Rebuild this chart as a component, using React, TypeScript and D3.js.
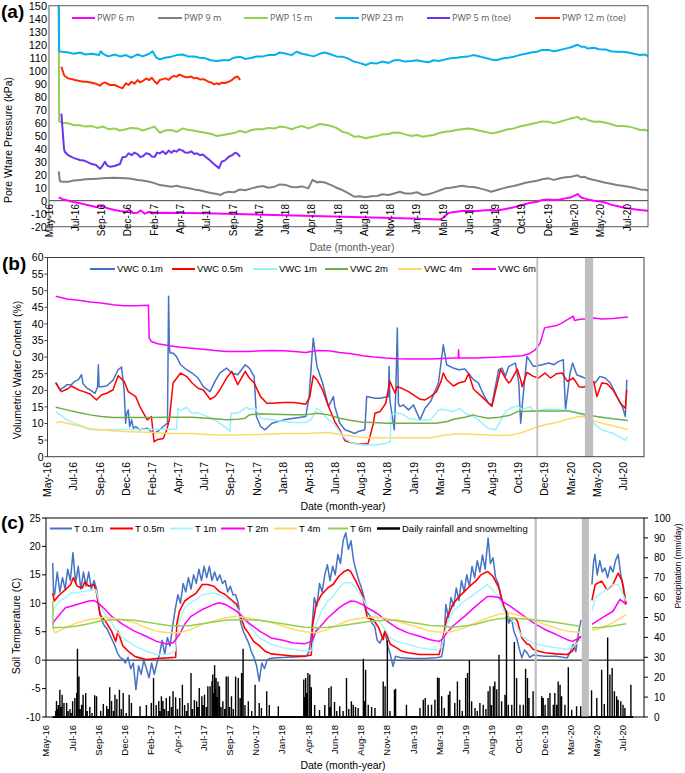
import React from "react";
import * as d3 from "d3";

type Pt = [string, number | null];
const parseDate = d3.timeParse("%y-%m-%d");
const fmtTick = d3.timeFormat("%b-%y");

// ---------- shared axis ----------
const AXIS_START = "16-05-10";
const AXIS_END = "20-09-22";
const TICK_STEP_DAYS = 70;
const TICK_COUNT = 23;

// ---------- panel (a): pore water pressure (kPa) ----------
const PWP_Y_TICKS = d3.range(-20, 151, 10);
const PWP_6: Pt[] = [["16-06-05",2.6],["16-06-15",1.2],["16-07-01",0],["16-07-15",-1],["16-08-01",-2],["16-08-15",-3],["16-09-01",-4.1],["16-09-15",-5],["16-09-22",-3.5],["16-10-01",-4.6],["16-10-15",-6],["16-11-01",-7.2],["16-11-15",-8],["16-12-01",-8.5],["16-12-10",-7],["16-12-20",-9.5],["17-01-01",-9.2],["17-01-10",-7.5],["17-01-20",-10],["17-02-01",-8.5],["17-02-10",-9.8],["17-03-01",-9.2],["17-07-01",-9.7],["18-01-01",-11],["18-07-01",-12.3],["19-01-01",-13.6],["19-03-20",-14.4],["19-04-10",-9.5],["19-04-20",-8.8],["19-05-01",-8.5],["19-05-15",-8],["19-06-01",-7.7],["19-06-15",-8.2],["19-07-01",-7.7],["19-07-15",-7.3],["19-08-01",-7.2],["19-08-15",-7.5],["19-09-01",-6.7],["19-09-15",-6],["19-10-01",-5.1],["19-10-15",-4],["19-11-01",-2.6],["19-11-15",-1.5],["19-12-01",-0.8],["19-12-15",0.5],["20-01-01",1],["20-01-15",0.5],["20-02-01",1],["20-02-15",1.8],["20-03-01",2.6],["20-03-18",5.1],["20-03-28",2.5],["20-04-05",1.8],["20-04-15",1],["20-05-01",0],["20-05-15",-0.5],["20-06-01",-1.5],["20-06-15",-3],["20-07-01",-4.1],["20-07-15",-5],["20-08-01",-5.9],["20-08-15",-6.5],["20-09-01",-7.2],["20-09-22",-7.7]];
const PWP_9: Pt[] = [["16-06-05",22.5],["16-06-08",15],["16-06-15",14.6],["16-07-01",14.6],["16-07-15",15.5],["16-08-01",16],["16-08-15",16.5],["16-09-01",16.7],["16-09-15",16.9],["16-10-01",17.2],["16-10-15",17.5],["16-11-01",17.7],["16-11-15",17.5],["16-12-01",17.2],["16-12-15",16.8],["17-01-01",16],["17-01-15",15.5],["17-02-01",14.6],["17-02-15",13.5],["17-03-01",12],["17-03-15",11.5],["17-04-01",10.8],["17-04-15",11.5],["17-05-01",10.3],["17-05-15",9.8],["17-06-01",8.7],["17-06-15",8],["17-07-01",6.9],["17-07-15",6],["17-08-01",5.1],["17-08-10",4.4],["17-08-20",6],["17-09-01",6.9],["17-09-15",6.5],["17-10-01",8.7],["17-10-15",8],["17-11-01",9.5],["17-11-15",10.5],["17-12-01",11.3],["17-12-15",10],["18-01-01",10.8],["18-01-15",12.5],["18-02-01",12],["18-02-15",10.5],["18-03-01",10.3],["18-03-15",11],["18-04-01",9.5],["18-04-12",16],["18-04-25",14],["18-05-01",14.6],["18-05-15",14],["18-06-01",12],["18-06-15",10],["18-07-01",8.2],["18-07-15",6],["18-08-01",3.1],["18-08-15",3.5],["18-09-01",2.6],["18-09-15",3.5],["18-10-01",3.6],["18-10-15",5],["18-11-01",4.4],["18-11-15",5.5],["18-12-01",6.9],["18-12-15",5.5],["19-01-01",5.6],["19-01-15",6.5],["19-02-01",4.4],["19-02-15",5],["19-03-01",6.2],["19-03-20",8.2],["19-04-01",9.5],["19-04-15",10],["19-05-01",10.8],["19-05-15",11.5],["19-06-01",10.8],["19-06-15",10.5],["19-07-01",9.5],["19-07-15",8.5],["19-08-01",6.9],["19-08-15",8],["19-09-01",9.5],["19-09-15",10.5],["19-10-01",11.3],["19-10-15",12.5],["19-11-01",13.8],["19-11-15",14.5],["19-12-01",15.4],["19-12-15",16.5],["20-01-01",17.2],["20-01-15",16],["20-02-01",17.2],["20-02-15",18],["20-03-01",18.5],["20-03-18",19.5],["20-03-28",18],["20-04-05",18.5],["20-04-15",17],["20-05-01",16],["20-05-15",15],["20-06-01",13.8],["20-06-15",13],["20-07-01",12],["20-07-15",11.5],["20-08-01",10.8],["20-08-15",10],["20-09-01",8.7],["20-09-15",8.5],["20-09-22",7.7]];
const PWP_15: Pt[] = [["16-06-05",150],["16-06-06",61],["16-06-15",60],["16-07-01",59.5],["16-07-15",58],["16-08-01",58],["16-08-15",57],["16-09-01",57.4],["16-09-15",56],["16-10-01",57],["16-10-15",55],["16-11-01",55.6],["16-11-15",54],["16-12-01",54.9],["16-12-15",56],["17-01-01",55.6],["17-01-15",54],["17-02-01",55.6],["17-02-15",57],["17-03-01",52.3],["17-03-15",54],["17-04-01",54.4],["17-04-15",53],["17-05-01",55.6],["17-05-15",54.5],["17-06-01",53.8],["17-06-15",53],["17-07-01",52.3],["17-07-15",51.5],["17-08-01",49.7],["17-08-15",50.5],["17-09-01",51.3],["17-09-15",52],["17-10-01",53.8],["17-10-15",52.5],["17-11-01",54.4],["17-11-15",55],["17-12-01",54.9],["17-12-15",56],["18-01-01",55.6],["18-01-15",57],["18-02-01",56.4],["18-02-15",55],["18-03-01",56.4],["18-03-15",57.5],["18-04-01",55.6],["18-04-15",57],["18-05-01",59],["18-05-15",58.5],["18-06-01",57.4],["18-06-15",56],["18-07-01",53],["18-07-15",52],["18-08-01",49.2],["18-08-15",49.5],["18-09-01",48],["18-09-15",49],["18-10-01",49.7],["18-10-15",51],["18-11-01",51.3],["18-11-15",52.5],["18-12-01",52.3],["18-12-15",51],["19-01-01",49.7],["19-01-15",50.5],["19-02-01",49.2],["19-02-15",50],["19-03-01",50.5],["19-03-15",52],["19-04-01",53],["19-04-15",53.5],["19-05-01",54.4],["19-05-15",55],["19-06-01",55.6],["19-06-15",55],["19-07-01",53.8],["19-07-15",53],["19-08-01",51.8],["19-08-15",52.5],["19-09-01",53.8],["19-09-15",55],["19-10-01",55.6],["19-10-15",57],["19-11-01",58],["19-11-15",59],["19-12-01",60],["19-12-15",61],["20-01-01",60.8],["20-01-15",59.5],["20-02-01",60.8],["20-02-15",62],["20-03-01",63.3],["20-03-18",64.5],["20-03-28",62.5],["20-04-05",63.3],["20-04-15",62],["20-05-01",60.8],["20-05-15",61],["20-06-01",60],["20-06-15",59],["20-07-01",57.4],["20-07-15",57.5],["20-08-01",57],["20-08-15",56],["20-09-01",54.4],["20-09-15",54.5],["20-09-22",53.6]];
const PWP_23: Pt[] = [["16-06-05",150],["16-06-06",115],["16-06-15",114.6],["16-07-01",114],["16-07-15",113],["16-08-01",114],["16-08-15",112.5],["16-09-01",113],["16-09-20",112],["16-09-25",115],["16-10-01",113],["16-10-15",111],["16-11-01",112.5],["16-11-15",111],["16-12-01",112],["16-12-15",110],["17-01-01",112.5],["17-01-15",111],["17-02-01",113],["17-02-10",115],["17-02-20",110],["17-03-01",108.7],["17-03-15",110],["17-04-01",110.8],["17-04-15",112],["17-05-01",112.5],["17-05-15",111],["17-06-01",111],["17-06-15",110],["17-07-01",109.5],["17-07-15",108],["17-08-01",107.4],["17-08-15",108],["17-09-01",108],["17-09-15",110],["17-10-01",110.8],["17-10-15",109],["17-11-01",110],["17-11-15",111],["17-12-01",111],["17-12-15",112],["18-01-01",112],["18-01-15",114],["18-02-01",113],["18-02-15",112],["18-03-01",114.6],["18-03-15",113],["18-04-01",112],["18-04-15",111],["18-05-01",113],["18-05-15",114],["18-06-01",112.5],["18-06-15",111],["18-07-01",110.8],["18-07-15",109.5],["18-08-01",107],["18-08-15",106],["18-09-01",104.4],["18-09-15",106],["18-10-01",105.6],["18-10-15",107],["18-11-01",106],["18-11-15",108],["18-12-01",108],["18-12-15",107],["19-01-01",107.4],["19-01-15",108],["19-02-01",107],["19-02-15",106.5],["19-03-01",108],["19-03-15",107.5],["19-04-01",108.7],["19-04-15",109.5],["19-05-01",110],["19-05-15",110.5],["19-06-01",111],["19-06-15",112],["19-07-01",111],["19-07-15",110],["19-08-01",108.7],["19-08-15",108],["19-09-01",109.5],["19-09-15",110],["19-10-01",110.8],["19-10-15",112],["19-11-01",113],["19-11-15",114],["19-12-01",114.6],["19-12-15",116],["20-01-01",116],["20-01-15",115],["20-02-01",116],["20-02-15",117],["20-03-01",118],["20-03-18",120],["20-03-28",118.5],["20-04-05",118.5],["20-04-15",117],["20-05-01",117.7],["20-05-15",116.5],["20-06-01",116.4],["20-06-15",115],["20-07-01",114.6],["20-07-15",114.5],["20-08-01",114],["20-08-15",113],["20-09-01",112],["20-09-15",112.5],["20-09-22",111]];
const PWP_5_TOE: Pt[] = [["16-06-12",67],["16-06-19",40],["16-06-21",37.7],["16-06-30",35],["16-07-10",33.5],["16-07-18",32.6],["16-07-31",31.3],["16-08-10",31],["16-08-18",30],["16-09-01",28.2],["16-09-12",27.5],["16-09-23",24.5],["16-09-30",27],["16-10-06",30],["16-10-12",27],["16-10-19",26.2],["16-11-01",26.7],["16-11-15",28.2],["16-11-22",33.5],["16-12-01",33.8],["16-12-08",36.5],["16-12-16",35],["16-12-24",37],["17-01-01",35.9],["17-01-08",33.5],["17-01-16",34.4],["17-01-24",36.5],["17-02-01",35.9],["17-02-08",34],["17-02-16",33.8],["17-02-22",37],["17-03-01",36.4],["17-03-09",38],["17-03-17",35.9],["17-03-25",38.5],["17-04-01",36.9],["17-04-08",38.5],["17-04-15",37.7],["17-04-22",39.5],["17-05-01",38.5],["17-05-08",37],["17-05-16",36.9],["17-05-24",38],["17-06-01",35.9],["17-06-08",36.5],["17-06-16",35],["17-06-24",35.5],["17-07-01",33.8],["17-07-09",32],["17-07-17",30],["17-07-24",28],["17-08-01",26.2],["17-08-06",25],["17-08-13",30],["17-08-22",31],["17-09-01",33.8],["17-09-10",35],["17-09-18",36.9],["17-09-25",36],["17-10-01",33.8]];
const PWP_12_TOE: Pt[] = [["16-06-12",103],["16-06-19",96.7],["16-06-21",95.9],["16-06-30",94.1],["16-07-10",93.5],["16-07-18",92.8],["16-07-31",92],["16-08-10",91.5],["16-08-18",91.5],["16-09-01",90.8],["16-09-12",90],["16-09-23",88.5],["16-09-30",90.3],["16-10-06",91],["16-10-19",89],["16-11-01",89],["16-11-15",87.2],["16-11-22",86.5],["16-12-01",90.3],["16-12-08",89],["16-12-16",91.5],["16-12-24",90],["17-01-01",92.8],["17-01-08",91],["17-01-16",92.3],["17-01-24",94],["17-02-01",92.8],["17-02-08",94.5],["17-02-16",91.5],["17-02-22",90],["17-03-01",92.8],["17-03-09",93.5],["17-03-17",94.1],["17-03-25",93],["17-04-01",94.9],["17-04-08",96],["17-04-15",95.4],["17-04-22",97],["17-05-01",95.9],["17-05-08",95],["17-05-16",94.9],["17-05-24",95.5],["17-06-01",94.1],["17-06-08",94.5],["17-06-16",93.3],["17-06-24",93.5],["17-07-01",92.8],["17-07-09",91.5],["17-07-17",90.8],["17-07-24",89.5],["17-08-01",90.3],["17-08-06",89.5],["17-08-13",90.8],["17-08-22",90.5],["17-09-01",91.5],["17-09-10",93],["17-09-18",94.9],["17-09-25",95.5],["17-10-01",92.8]];

// ---------- panel (b): volumetric water content (%) ----------
const VWC_Y_TICKS = d3.range(0, 61, 5);
const VWC_01: Pt[] = [["16-06-01",22.4],["16-06-12",20.1],["16-06-25",21.1],["16-07-01",21.7],["16-07-13",21.7],["16-07-22",22.7],["16-08-01",23.2],["16-08-09",24.7],["16-08-13",22],["16-08-24",20.6],["16-09-01",20.1],["16-09-14",19.1],["16-09-21",21],["16-09-23",27.7],["16-09-25",21.1],["16-10-01",21.1],["16-10-15",21.3],["16-11-01",23],["16-11-15",26.2],["16-11-24",27],["16-12-01",20.1],["16-12-05",10.1],["16-12-08",13],["16-12-12",14.1],["16-12-16",9],["16-12-21",11.1],["16-12-26",8.5],["17-01-01",9.1],["17-01-12",8.1],["17-02-01",8.6],["17-02-17",7],["17-03-01",7.6],["17-03-16",9.1],["17-03-27",10.1],["17-03-30",48.3],["17-04-01",33],["17-04-03",31.2],["17-04-11",31.2],["17-04-20",30.2],["17-05-01",27.7],["17-05-17",26.2],["17-06-01",25.2],["17-06-17",23.7],["17-07-01",21.1],["17-07-19",19.6],["17-08-01",22.7],["17-08-14",25.2],["17-09-01",26.7],["17-09-15",25.2],["17-10-01",24.7],["17-10-21",27.7],["17-11-01",26.7],["17-11-14",24.2],["17-11-20",12.1],["17-12-01",9.1],["17-12-13",8.1],["18-01-01",10.1],["18-02-01",11.1],["18-03-01",11.6],["18-04-01",12.1],["18-04-10",18.1],["18-04-21",35.7],["18-05-01",27.2],["18-05-16",22.2],["18-06-01",15.1],["18-06-14",18.1],["18-06-18",15],["18-07-01",10.1],["18-07-15",8.1],["18-08-11",7],["18-08-20",7.6],["18-09-06",8.1],["18-09-11",18.1],["18-10-03",17.6],["18-10-17",17.6],["18-11-08",18.1],["18-11-10",27.2],["18-11-12",17],["18-11-24",8.1],["18-11-28",20],["18-12-02",38.8],["18-12-05",16],["18-12-09",15.1],["18-12-18",15.6],["19-01-01",14.1],["19-01-14",15.6],["19-02-01",11.1],["19-02-14",14.6],["19-03-01",16.6],["19-03-22",22.2],["19-04-04",33.7],["19-04-13",27.7],["19-05-01",26.7],["19-05-15",26.2],["19-06-01",26.4],["19-06-24",23.2],["19-07-07",22.2],["19-07-21",18.6],["19-08-03",16.1],["19-08-12",15.6],["19-08-30",26.2],["19-09-08",26.7],["19-09-17",24.2],["19-09-26",27.2],["19-10-14",28.2],["19-10-23",22.2],["19-10-28",10.1],["19-11-05",20.1],["19-11-14",30.2],["19-12-01",27.2],["19-12-24",27.7],["20-01-11",28.2],["20-01-25",27.7],["20-02-07",28.7],["20-02-19",29.2],["20-02-25",14.1],["20-03-08",25.2],["20-03-15",28.2],["20-03-26",24.7],["20-04-16",23.7],["20-05-14",22.2],["20-05-27",24.2],["20-06-10",23.7],["20-06-24",22.2],["20-07-12",18.1],["20-07-26",15.1],["20-08-03",12.1],["20-08-07",23.2]];
const VWC_05: Pt[] = [["16-06-01",22.2],["16-06-16",19.6],["16-07-01",20.3],["16-07-13",21.3],["16-08-01",20.1],["16-08-15",19.6],["16-09-01",18.9],["16-09-18",17.1],["16-10-01",18.6],["16-10-15",19.1],["16-11-01",20.1],["16-11-15",24.4],["16-12-01",22.7],["16-12-12",19.6],["17-01-01",18.1],["17-01-12",15.1],["17-02-01",11.1],["17-02-12",12.1],["17-02-19",4.5],["17-03-01",5.2],["17-03-16",5.5],["17-03-25",8.1],["17-04-01",11.1],["17-04-11",22.2],["17-05-01",25.2],["17-05-17",24.2],["17-06-01",22.2],["17-06-17",20.6],["17-07-01",20.1],["17-07-19",17.3],["17-08-01",18.1],["17-08-14",20.1],["17-09-01",23.7],["17-09-15",25.7],["17-10-01",21.7],["17-10-21",25.7],["17-11-01",23.7],["17-11-14",22.2],["17-12-01",18.1],["17-12-18",16.1],["18-01-01",16.1],["18-02-01",16.3],["18-03-01",16.3],["18-04-01",15.8],["18-04-12",18.1],["18-04-21",24.4],["18-05-01",23.2],["18-05-16",20.1],["18-06-01",15.1],["18-06-18",10.5],["18-07-01",8.1],["18-07-15",4.8],["18-08-01",4.2],["18-08-20",3.8],["18-09-06",3.8],["18-09-15",4],["18-09-29",10.1],["18-10-03",13.1],["18-10-17",13.6],["18-11-01",16.1],["18-11-12",22.7],["18-11-26",19.1],["18-12-01",21.1],["18-12-14",20.6],["19-01-01",19.6],["19-01-18",18.3],["19-02-01",17.3],["19-02-14",17.1],["19-03-01",18.1],["19-03-17",19.6],["19-03-29",22.7],["19-04-04",25.2],["19-04-13",23.2],["19-05-01",21.3],["19-05-15",22.2],["19-06-01",22.7],["19-06-11",25],["19-06-24",20.3],["19-07-16",18.1],["19-08-03",16.1],["19-08-12",15.1],["19-08-30",23.7],["19-09-04",26.2],["19-09-17",23.7],["19-09-26",22.2],["19-10-01",22.7],["19-10-19",26.4],["19-10-28",23.2],["19-11-01",21.1],["19-11-14",25.4],["19-12-01",24.2],["19-12-15",23.7],["20-01-01",25.2],["20-01-16",23.7],["20-02-01",25],["20-02-16",25.2],["20-03-01",22.7],["20-03-17",23.7],["20-04-01",21.1],["20-04-13",20.9],["20-05-10",22.7],["20-05-19",18.1],["20-06-01",22.2],["20-06-15",22],["20-07-01",20.1],["20-07-21",16.1],["20-08-03",14.6],["20-08-07",20.1]];
const VWC_1: Pt[] = [["16-06-01",13.6],["16-07-01",11.1],["16-08-01",9.6],["16-09-01",8.1],["17-03-27",8.3],["17-04-20",8.3],["17-04-24",14.6],["17-05-01",13.9],["17-05-17",14.9],["17-06-01",13.1],["17-06-12",13.3],["17-07-01",12.6],["17-08-01",11.1],["17-09-01",8.6],["17-09-10",7.6],["17-09-13",13.1],["17-10-01",13.1],["17-10-25",14.9],["17-11-01",14.3],["17-11-17",14.6],["17-12-01",11.6],["18-01-01",11.1],["18-02-01",10.6],["18-03-01",10.3],["18-04-01",10.3],["18-04-16",11.3],["18-05-01",14.6],["18-05-16",13.1],["18-06-01",11.1],["18-06-15",10],["18-07-01",7.5],["18-07-15",5.5],["18-08-01",4.2],["18-09-01",3.5],["18-10-01",3.5],["18-11-01",4],["18-11-13",4.5],["18-11-15",12.6],["18-12-01",13.1],["18-12-14",12.9],["19-01-01",11.6],["19-02-01",10.9],["19-03-01",11.1],["19-03-22",14.1],["19-04-01",14.3],["19-05-01",13.6],["19-05-19",14.6],["19-06-01",13.1],["19-07-01",11.6],["19-08-01",8.6],["19-08-21",8.1],["19-09-01",10.1],["19-09-17",13.6],["19-10-01",14.6],["19-10-19",15.3],["19-11-01",14.1],["19-11-23",15.1],["19-12-01",13.6],["20-01-01",14.3],["20-02-01",14.3],["20-03-01",14.1],["20-04-01",13.1],["20-04-13",12.6],["20-05-10",10.1],["20-06-01",8.1],["20-07-01",7],["20-08-03",5],["20-08-08",6]];
const VWC_2: Pt[] = [["16-06-01",14.9],["16-07-01",14.1],["16-08-01",13.3],["16-09-01",12.6],["16-10-01",12.1],["16-11-01",11.8],["17-02-01",11.8],["17-04-01",11.9],["17-06-01",11.9],["17-08-01",11.4],["17-09-01",11.1],["17-10-01",11.3],["17-10-21",11.6],["17-11-01",12.6],["17-12-01",12.9],["18-01-01",12.8],["18-03-01",12.6],["18-04-01",12.6],["18-05-01",13.1],["18-06-01",12.6],["18-07-01",11.6],["18-08-01",10.9],["18-09-01",10.4],["18-10-01",10.3],["18-11-01",10.1],["19-03-15",10.1],["19-04-15",10.6],["19-05-01",11.3],["19-06-01",11.9],["19-06-24",12.6],["19-07-01",12.3],["19-08-01",11.6],["19-09-01",11.9],["19-09-30",12.5],["19-10-19",13.6],["19-11-01",13.6],["19-12-01",13.8],["20-03-01",13.8],["20-04-01",13.1],["20-05-01",12.4],["20-06-01",11.9],["20-07-01",11.4],["20-08-10",10.9]];
const VWC_4: Pt[] = [["16-06-01",10.3],["16-06-15",10.5],["16-07-01",10.1],["16-08-01",9.3],["16-09-01",8.4],["16-10-01",8.1],["16-11-01",7.8],["16-12-01",7.6],["17-02-01",7.4],["17-04-01",7],["17-06-01",7],["17-08-01",6.5],["17-10-01",6.5],["17-12-01",6.7],["18-02-01",7],["18-04-01",7],["18-06-01",7.3],["18-07-01",6.7],["18-08-01",6.2],["18-09-01",5.8],["18-10-01",5.7],["19-03-01",5.7],["19-04-01",6.4],["19-05-01",6.8],["19-06-01",6.8],["19-07-01",6.7],["19-08-01",6.5],["19-09-01",6.4],["19-10-01",6.5],["19-11-01",7.3],["19-12-01",8.6],["20-01-01",9.6],["20-02-01",10.3],["20-03-01",11.3],["20-04-01",12.1],["20-04-13",12.1],["20-05-01",11.1],["20-06-01",10.1],["20-07-01",9.3],["20-08-10",8.1]];
const VWC_6: Pt[] = [["16-06-01",48.3],["16-07-01",47.5],["16-08-01",47.1],["16-09-01",46.6],["16-10-01",46.3],["16-11-01",45.8],["16-12-01",45.5],["17-01-01",45.5],["17-02-04",45.6],["17-02-06",35.7],["17-02-12",34.7],["17-03-01",34],["17-04-01",33.4],["17-05-01",33],["17-06-01",32.7],["17-07-01",32.4],["17-08-01",32],["17-09-01",31.7],["17-10-01",31.7],["17-11-01",31.7],["17-12-01",31.9],["18-01-01",32],["18-02-01",31.9],["18-03-01",31.7],["18-04-01",31.4],["18-05-01",32],["18-06-01",31.9],["18-07-01",31.4],["18-08-01",31],["18-09-01",30.4],["18-10-01",30],["18-11-01",29.7],["18-12-01",29.5],["19-01-01",29.4],["19-02-01",29.4],["19-03-01",29.4],["19-04-01",29.6],["19-05-01",29.7],["19-05-14",29.7],["19-05-15",32.2],["19-05-16",29.7],["19-06-01",29.7],["19-07-01",29.7],["19-08-01",29.9],["19-09-01",30],["19-10-01",30.2],["19-11-01",30.4],["19-11-19",31],["19-12-06",32.2],["19-12-19",34.2],["19-12-31",38.8],["20-01-11",39.1],["20-02-01",39.5],["20-02-16",40.3],["20-03-01",41.3],["20-03-17",42.3],["20-03-20",41],["20-04-01",41.3],["20-04-13",41.5],["20-05-10",41.8],["20-06-01",41.5],["20-07-01",41.6],["20-08-10",42.1]];
const VWC_GAPS: [string, string][] = [["19-12-09","19-12-14"],["20-04-17","20-05-09"]];

// ---------- panel (c): soil temperature (C) and precipitation (mm/day) ----------
const T_Y_TICKS = d3.range(-10, 26, 5);
const P_Y_TICKS = d3.range(0, 101, 10);
const T_01: Pt[] = [["16-05-28",17.1],["16-05-30",12],["16-06-02",11.5],["16-06-09",15.5],["16-06-16",12],["16-06-23",14.5],["16-06-30",12.5],["16-07-07",16],["16-07-14",14],["16-07-21",18.9],["16-07-28",13.5],["16-08-04",16.5],["16-08-11",12.5],["16-08-18",15.5],["16-08-25",13],["16-09-01",15.5],["16-09-08",12.5],["16-09-15",14],["16-09-22",12.5],["16-09-29",9],["16-10-06",7],["16-10-13",6],["16-10-20",5.5],["16-10-27",4.5],["16-11-03",3.5],["16-11-10",2.5],["16-11-17",1.2],["16-11-24",0.5],["16-12-01",0.2],["16-12-08",-0.5],["16-12-15",0.5],["16-12-22",-1.5],["16-12-29",-0.5],["17-01-05",-5.2],["17-01-12",-1],["17-01-19",-2.5],["17-01-26",0],["17-02-02",-1.5],["17-02-09",-3.1],["17-02-16",-0.5],["17-02-23",-2.5],["17-03-02",-0.5],["17-03-09",1],["17-03-16",3.5],["17-03-23",1],["17-03-30",4],["17-04-06",2.5],["17-04-13",6],["17-04-20",9],["17-04-27",11.5],["17-05-04",10],["17-05-11",13.5],["17-05-18",12],["17-05-25",14.5],["17-06-01",12.5],["17-06-08",15],["17-06-15",13.5],["17-06-22",16],["17-06-29",14],["17-07-06",16.5],["17-07-13",14.5],["17-07-20",16.5],["17-07-27",14],["17-08-03",15.5],["17-08-10",14],["17-08-17",15],["17-08-24",13.5],["17-08-31",14],["17-09-07",12],["17-09-14",13],["17-09-21",11.5],["17-09-28",11.5],["17-10-05",10],["17-10-12",6.5],["17-10-19",5],["17-10-26",4],["17-11-02",3],["17-11-09",1.5],["17-11-16",0.5],["17-11-23",-1],["17-11-30",-3.7],["17-12-07",-0.5],["17-12-14",-1.5],["17-12-21",0],["17-12-28",0.3],["18-01-15",0.4],["18-02-15",0.5],["18-03-15",0.6],["18-04-05",0.7],["18-04-12",1.5],["18-04-19",5],["18-04-26",11],["18-05-03",9.5],["18-05-10",13.5],["18-05-17",12],["18-05-24",15],["18-05-31",16.8],["18-06-07",14],["18-06-14",16.5],["18-06-21",15],["18-06-28",18.6],["18-07-05",17],["18-07-12",21],["18-07-19",22.4],["18-07-26",19.5],["18-08-02",21],["18-08-09",17.5],["18-08-16",15.6],["18-08-23",14],["18-08-30",12.7],["18-09-06",11],["18-09-13",8.5],["18-09-20",8],["18-09-27",6.5],["18-10-04",6],["18-10-11",3.5],["18-10-18",3],["18-10-25",4],["18-11-01",5.1],["18-11-08",2.5],["18-11-15",1],["18-11-22",-1.1],["18-11-29",0.7],["18-12-15",0.4],["19-01-15",0.3],["19-02-15",0.3],["19-03-15",0.4],["19-04-01",0.6],["19-04-07",2.8],["19-04-12",9.8],["19-04-19",7.5],["19-04-26",11],["19-05-03",9.5],["19-05-10",12.7],["19-05-17",10.5],["19-05-24",14],["19-05-31",12],["19-06-07",15],["19-06-14",13],["19-06-21",16.5],["19-06-28",14.5],["19-07-05",17.5],["19-07-12",15.5],["19-07-19",18.5],["19-07-26",16],["19-08-03",21.5],["19-08-09",17],["19-08-16",18],["19-08-23",14.5],["19-08-30",13.5],["19-09-06",11],["19-09-13",9.5],["19-09-20",8.6],["19-09-27",6.5],["19-10-04",7.4],["19-10-11",5],["19-10-18",3.9],["19-10-25",2],["19-11-01",0.4],["19-11-08",1.8],["19-11-15",1.3],["19-11-22",0.5],["19-12-01",0.9],["20-01-01",0.7],["20-02-01",0.7],["20-03-01",0.4],["20-03-10",1.5],["20-03-17",2.8],["20-03-24",1.5],["20-04-01",5.1],["20-04-07",7.1],["20-04-20",null],["20-05-06",13.3],["20-05-10",17],["20-05-14",18.6],["20-05-20",15],["20-05-27",17.5],["20-06-03",15.5],["20-06-10",16.2],["20-06-17",14.5],["20-06-24",16.5],["20-07-01",15.5],["20-07-08",17.5],["20-07-15",18.6],["20-07-22",15],["20-07-29",13],["20-08-05",9.8]];
const T_05: Pt[] = [["16-05-28",11.8],["16-06-01",10.4],["16-06-15",11.5],["16-07-01",12.4],["16-07-15",13.3],["16-07-22",14.5],["16-08-01",13],["16-08-15",12.7],["16-08-22",13.8],["16-09-01",13],["16-09-15",13.3],["16-09-22",11.8],["16-10-01",8],["16-10-15",6.9],["16-11-01",5.1],["16-11-12",3.3],["16-11-18",5.1],["16-12-01",2.5],["16-12-15",1.6],["17-01-01",0.7],["17-01-15",0.4],["17-02-01",0.1],["17-03-01",0.3],["17-04-01",0.4],["17-04-21",0.5],["17-04-24",6.3],["17-05-01",8.6],["17-05-15",10.4],["17-06-01",11.2],["17-06-15",11.8],["17-07-01",13.3],["17-07-15",13.3],["17-08-01",13],["17-08-15",12.1],["17-09-01",11.5],["17-09-15",10.7],["17-10-01",9.8],["17-10-13",7.4],["17-10-22",5.7],["17-11-01",4.8],["17-11-15",3.3],["17-12-01",2.5],["17-12-15",1.6],["18-01-01",1.1],["18-02-01",0.9],["18-03-01",0.7],["18-04-01",0.7],["18-04-18",0.9],["18-04-22",6.3],["18-05-01",9.8],["18-05-15",11.5],["18-06-01",12.7],["18-06-15",13.3],["18-07-01",14.8],["18-07-15",15.6],["18-07-25",15.9],["18-08-01",15.6],["18-08-15",13.9],["18-09-01",11.5],["18-09-15",7.4],["18-10-01",7.1],["18-10-15",5.7],["18-10-27",3.6],["18-11-01",5.1],["18-11-15",2.8],["18-12-01",2.2],["18-12-15",1.6],["19-01-01",1.3],["19-02-01",1],["19-03-01",1],["19-03-25",1],["19-04-01",2.8],["19-04-15",7.4],["19-05-01",9.8],["19-05-15",11],["19-06-01",12.1],["19-06-15",13],["19-07-01",13.9],["19-07-15",15],["19-08-01",15.6],["19-08-15",14.8],["19-09-01",12.7],["19-09-15",9.2],["19-10-01",7.1],["19-10-13",7.4],["19-10-20",6.9],["19-11-01",3.9],["19-11-15",2.8],["19-11-20",2.8],["19-12-01",1.9],["19-12-15",1.6],["20-01-01",1.3],["20-02-01",1.1],["20-03-01",1],["20-03-15",1.6],["20-04-01",3.9],["20-04-07",4.2],["20-04-20",null],["20-05-06",10.5],["20-05-15",13.3],["20-06-01",13.9],["20-06-15",12.4],["20-07-01",13.3],["20-07-15",15.3],["20-07-25",14],["20-08-05",9.8]];
const T_1: Pt[] = [["16-05-28",8.6],["16-06-01",9.2],["16-06-15",10.4],["16-07-01",11],["16-07-15",11.8],["16-08-01",11.8],["16-08-15",12.1],["16-09-01",12.2],["16-09-20",12.4],["16-10-01",9.8],["16-10-15",8],["16-11-01",6.6],["16-11-15",5.1],["16-12-01",3.9],["16-12-15",3.3],["17-01-01",2.5],["17-02-01",1.6],["17-03-01",1],["17-04-01",1],["17-04-20",1.6],["17-05-01",6.9],["17-05-15",9.2],["17-06-01",10.1],["17-06-15",10.7],["17-07-01",11.5],["17-08-01",11.8],["17-08-15",11.5],["17-09-01",11],["17-09-15",10.4],["17-10-01",9.2],["17-10-15",8],["17-11-01",6.3],["17-11-15",5.1],["17-12-01",3.9],["18-01-01",2.8],["18-02-01",2.2],["18-03-01",1.9],["18-04-01",1.6],["18-04-20",1.7],["18-05-01",6.3],["18-05-15",8.6],["18-06-01",10.4],["18-06-15",11.2],["18-07-01",12.7],["18-07-15",13.6],["18-08-01",13.6],["18-08-15",12.7],["18-09-01",11],["18-09-15",9.2],["18-10-01",8.6],["18-10-15",6.9],["18-11-01",5.4],["18-11-15",3.9],["18-12-01",3.3],["19-01-01",2.8],["19-02-01",2.2],["19-03-01",1.9],["19-03-25",1.8],["19-04-01",2.5],["19-04-15",6.3],["19-05-01",8.6],["19-06-01",10.4],["19-07-01",11.8],["19-08-01",13.3],["19-08-15",12.4],["19-09-01",11],["19-09-15",8.6],["19-10-01",7.4],["19-10-15",6.3],["19-11-01",4.2],["19-12-01",3],["20-01-01",2.5],["20-02-01",2.2],["20-03-01",1.9],["20-03-15",2.2],["20-04-01",3.3],["20-04-07",3.6],["20-04-20",null],["20-05-06",8.6],["20-05-15",11],["20-06-01",11.8],["20-07-01",13.3],["20-07-15",13.3],["20-08-05",10.4]];
const T_2: Pt[] = [["16-05-28",6.3],["16-06-01",6.9],["16-06-15",8],["16-07-01",9.2],["16-08-01",9.8],["16-09-01",10.4],["16-09-15",10.5],["16-10-01",9.8],["16-10-15",8.9],["16-11-01",7.7],["16-12-01",6.3],["17-01-01",5.1],["17-02-01",4.2],["17-03-01",3.3],["17-04-01",2.8],["17-04-15",3.1],["17-05-01",4.5],["17-05-15",6.3],["17-06-01",7.7],["17-07-01",8.9],["17-08-01",9.8],["17-08-15",10.1],["17-09-01",9.8],["17-10-01",8.6],["17-11-01",6.6],["17-12-01",5.1],["18-01-01",3.9],["18-02-01",3.5],["18-03-01",3],["18-04-01",2.9],["18-04-20",3.3],["18-05-01",5.1],["18-06-01",7.4],["18-07-01",9.2],["18-07-15",9.8],["18-08-01",10.4],["18-08-15",10.3],["18-09-01",9.8],["18-09-15",9.2],["18-10-01",8.6],["18-10-15",8],["18-11-01",7.1],["18-12-01",5.7],["19-01-01",4.8],["19-02-01",4.2],["19-03-01",3.6],["19-03-25",3.3],["19-04-01",3.6],["19-04-15",4.8],["19-05-01",6],["19-06-01",7.7],["19-07-01",9.5],["19-08-01",11.2],["19-08-15",11.2],["19-09-01",11],["19-09-15",10.1],["19-10-01",9.5],["19-11-01",8],["19-12-01",6.6],["20-01-01",5.4],["20-02-01",4.5],["20-03-01",3.6],["20-03-15",3.3],["20-04-01",3.9],["20-04-07",4],["20-04-20",null],["20-05-06",6.3],["20-06-01",7.4],["20-07-01",8.6],["20-07-20",10.7],["20-08-05",9.8]];
const T_4: Pt[] = [["16-05-28",5.7],["16-06-03",4.8],["16-07-01",5.7],["16-08-01",6.6],["16-09-01",7.1],["16-10-01",7.4],["16-10-15",7.6],["16-11-01",7.4],["16-12-01",7.1],["17-01-01",6.6],["17-02-01",5.7],["17-03-01",5.1],["17-04-01",4.8],["17-05-01",4.8],["17-06-01",5.4],["17-07-01",6.3],["17-08-01",6.9],["17-09-01",7.4],["17-10-01",7.7],["17-11-01",7.4],["17-12-01",7],["18-01-01",6.6],["18-02-01",6],["18-03-01",5.4],["18-04-01",5],["18-05-01",4.8],["18-06-01",5.4],["18-07-01",6.3],["18-08-01",7.1],["18-09-01",7.4],["18-10-01",7.6],["18-11-01",7.4],["18-12-01",6.9],["19-01-01",6.3],["19-02-01",5.7],["19-03-01",5.1],["19-04-01",4.9],["19-05-01",5.1],["19-06-01",5.7],["19-07-01",6.6],["19-08-01",7.4],["19-09-01",8.1],["19-10-01",8.3],["19-11-01",7.7],["19-12-01",7],["20-01-01",6.3],["20-02-01",5.6],["20-03-01",5.1],["20-04-01",4.9],["20-04-07",4.9],["20-04-20",null],["20-05-06",5.2],["20-06-01",5.7],["20-07-01",6.6],["20-08-05",8]];
const T_6: Pt[] = [["16-05-28",10.4],["16-05-29",5.7],["16-07-01",5.8],["16-08-01",6],["16-09-01",6.4],["16-10-01",6.9],["16-11-01",7.1],["16-12-01",7.1],["17-01-01",7],["17-02-01",6.7],["17-03-01",6.4],["17-04-01",6.1],["17-05-01",6],["17-06-01",6.1],["17-07-01",6.4],["17-08-01",6.7],["17-09-01",7],["17-10-01",7.1],["17-11-01",7.1],["17-12-01",7],["18-01-01",6.7],["18-02-01",6.4],["18-03-01",6.1],["18-04-01",5.8],["18-05-01",5.7],["18-06-01",5.8],["18-07-01",6],["18-08-01",6.3],["18-09-01",6.6],["18-10-01",6.9],["18-11-01",7],["18-12-01",7],["19-01-01",6.7],["19-02-01",6.4],["19-03-01",6.1],["19-04-01",6],["19-05-01",5.8],["19-06-01",6],["19-07-01",6.3],["19-08-01",6.9],["19-09-01",7.3],["19-10-01",7.4],["19-11-01",7.3],["19-12-01",7.1],["20-01-01",6.9],["20-02-01",6.6],["20-03-01",6.3],["20-04-01",6],["20-04-07",6],["20-04-20",null],["20-05-06",5.7],["20-06-01",5.8],["20-07-01",6],["20-08-05",6.4]];
const RAIN: [string, number][] = [["16-06-05",3],["16-06-07",8],["16-06-10",4],["16-06-12",6],["16-06-16",13.7],["16-06-19",5],["16-06-22",11.2],["16-06-27",7],["16-07-04",7],["16-07-08",3],["16-07-13",4],["16-07-16",2],["16-07-20",7.9],["16-07-26",9.5],["16-07-31",12],["16-08-02",34.3],["16-08-06",20.4],["16-08-09",4],["16-08-13",6.2],["16-08-17",11.2],["16-08-24",12],["16-08-28",3],["16-09-04",5],["16-09-10",2],["16-09-17",10.9],["16-09-22",10.4],["16-10-03",3],["16-10-10",6.5],["16-10-19",5.5],["16-10-23",4],["16-10-27",14.9],["16-11-01",8],["16-11-06",3],["16-11-10",11.2],["16-11-15",9],["16-11-22",13.7],["16-11-27",4],["16-12-02",12],["16-12-10",2],["16-12-18",11.2],["16-12-24",7],["17-01-16",5.4],["17-02-02",6],["17-02-15",7],["17-02-21",19.6],["17-02-28",6],["17-03-07",8],["17-03-10",3],["17-03-14",10.4],["17-03-18",8],["17-03-22",4],["17-03-27",9.5],["17-04-01",3],["17-04-05",10.4],["17-04-10",5],["17-04-14",12.9],["17-04-21",9.9],["17-04-26",4],["17-05-02",9.5],["17-05-09",16.2],["17-05-15",6],["17-05-20",3],["17-05-24",7],["17-06-01",22.1],["17-06-05",4],["17-06-10",8.5],["17-06-16",7.9],["17-06-19",5],["17-06-23",14.6],["17-06-30",10.4],["17-07-03",6],["17-07-07",11.2],["17-07-12",5],["17-07-16",15.4],["17-07-22",15.4],["17-07-27",18],["17-07-29",21.3],["17-08-01",12],["17-08-03",26],["17-08-05",14],["17-08-07",19.6],["17-08-10",10],["17-08-12",17.9],["17-08-16",15.4],["17-08-20",5],["17-08-25",7.9],["17-08-30",4],["17-09-03",20.4],["17-09-08",20.4],["17-09-12",5],["17-09-17",10.4],["17-09-22",4],["17-09-28",20.4],["17-10-05",19.6],["17-10-10",9.5],["17-10-14",22.1],["17-10-18",34.3],["17-10-23",6],["17-11-01",7.9],["17-11-10",3],["17-11-19",16.2],["17-11-30",7],["17-12-06",4.5],["17-12-20",12.9],["17-12-27",6],["18-01-20",5.4],["18-03-29",18.8],["18-04-01",10],["18-04-03",19.6],["18-04-06",12],["18-04-09",22.1],["18-04-14",21.3],["18-04-18",15],["18-04-27",6],["18-05-10",3.5],["18-05-24",6],["18-06-04",14.6],["18-06-07",5],["18-06-10",15.4],["18-06-19",7.5],["18-06-25",3],["18-07-03",5.4],["18-07-12",3],["18-07-21",19.6],["18-07-27",4],["18-08-03",7.9],["18-08-08",6.2],["18-08-14",5],["18-08-21",4.5],["18-09-04",29.3],["18-09-07",8],["18-09-10",23.8],["18-09-17",6.2],["18-09-26",5],["18-10-05",4.5],["18-10-27",17.9],["18-11-01",15.4],["18-11-07",38.4],["18-11-14",3],["18-11-26",13.7],["18-11-29",14.2],["18-12-28",6.2],["19-02-02",4.5],["19-02-11",8.7],["19-02-16",9.5],["19-02-24",6.2],["19-03-05",6.2],["19-03-14",8.7],["19-03-21",19.9],["19-03-25",19.6],["19-04-01",10.4],["19-04-08",4.5],["19-04-19",11.2],["19-04-23",12.9],["19-05-06",7],["19-05-13",17.9],["19-05-19",8.7],["19-05-26",3],["19-06-04",19.6],["19-06-09",22.1],["19-06-14",28.5],["19-06-20",7.9],["19-06-29",4.5],["19-07-05",3],["19-07-12",7],["19-07-21",6.2],["19-07-28",4],["19-08-03",12.9],["19-08-08",15.4],["19-08-12",6],["19-08-17",15.4],["19-08-21",17.9],["19-08-26",14],["19-09-01",31.3],["19-09-08",7.9],["19-09-17",11.2],["19-09-21",53.4],["19-09-26",6.2],["19-10-05",6.2],["19-10-12",37.7],["19-10-18",19.6],["19-10-27",6.2],["19-11-05",6.2],["19-11-11",24.3],["19-11-16",19.6],["19-11-20",9.5],["19-12-01",12.9],["19-12-24",10.4],["19-12-28",9.5],["20-01-02",6.2],["20-01-10",9.5],["20-01-15",12],["20-01-24",6.2],["20-01-28",12],["20-02-02",6.2],["20-02-06",17.9],["20-02-11",16.2],["20-02-15",10.4],["20-02-24",6.2],["20-03-04",25],["20-03-13",3.6],["20-03-26",5.4],["20-04-06",5.4],["20-05-05",13.4],["20-05-19",9.5],["20-06-01",23.8],["20-06-08",6.5],["20-06-17",40],["20-06-23",21.3],["20-06-29",24.6],["20-07-05",13],["20-07-11",10.4],["20-07-15",8.7],["20-07-22",7.9],["20-07-28",6.2],["20-08-02",4.5],["20-08-18",16.2]];
const T_GAPS: [string, string][] = [["19-12-05","19-12-11"],["20-04-09","20-04-28"]];

// ---------- rendering ----------
const FONT = "'Liberation Sans', Arial, Helvetica, sans-serif";
const tStart = parseDate(AXIS_START) as Date;
const tEnd = parseDate(AXIS_END) as Date;
const TICK_DATES = d3.range(TICK_COUNT).map((k) => d3.timeDay.offset(tStart, k * TICK_STEP_DAYS));

type Scale = (v: any) => number;

function Line({ data, x, y, color, width }: { data: Pt[]; x: Scale; y: Scale; color: string; width: number }) {
  const pts = data.map(([d, v]) => ({ t: parseDate(d) as Date, v }));
  const gen = d3
    .line<{ t: Date; v: number | null }>()
    .defined((p) => p.v !== null)
    .x((p) => x(p.t))
    .y((p) => y(p.v as number));
  return <path d={gen(pts) || ""} fill="none" stroke={color} strokeWidth={width} strokeLinejoin="round" />;
}

function XLabels({ x, y0, size }: { x: Scale; y0: number; size: number }) {
  return (
    <g fontSize={size} fill="#000">
      {TICK_DATES.map((t, i) => (
        <text key={i} transform={`translate(${x(t) + size * 0.36},${y0}) rotate(-90)`} textAnchor="end">
          {fmtTick(t)}
        </text>
      ))}
    </g>
  );
}

function Legend({ items, y, size, textColor, family }: { items: { label: string; color: string; x1: number; x2: number; w?: number }[]; y: number; size: number; textColor: string; family?: string }) {
  return (
    <g>
      {items.map((it, i) => (
        <g key={i}>
          <line x1={it.x1} x2={it.x2} y1={y} y2={y} stroke={it.color} strokeWidth={it.w || 2} />
          <text x={it.x2 + 2} y={y + size * 0.36} fontSize={size} fill={textColor} fontFamily={family}>
            {it.label}
          </text>
        </g>
      ))}
    </g>
  );
}

export default function App() {
  // panel (a)
  const xA = d3.scaleTime().domain([tStart, tEnd]).range([49, 648]);
  const yA = d3.scaleLinear().domain([-20, 150]).range([226.7, 5.7]);
  // panel (b)
  const xB = d3.scaleTime().domain([tStart, tEnd]).range([47.5, 644]);
  const yB = d3.scaleLinear().domain([0, 60]).range([456.7, 257.5]);
  // panel (c)
  const xC = d3.scaleTime().domain([tStart, tEnd]).range([46, 644]);
  const yC = d3.scaleLinear().domain([-10, 25]).range([717, 518]);
  const yP = d3.scaleLinear().domain([0, 100]).range([717, 518]);

  const rainPath = RAIN.map(([d, v]) => {
    const px = xC(parseDate(d) as Date);
    return `M${px.toFixed(2)},${yP(0)}V${yP(v).toFixed(2)}`;
  }).join("");

  const band = (xs: Scale, g: [string, string], top: number, bottom: number, key: number) => {
    const a = xs(parseDate(g[0]) as Date);
    const b = xs(parseDate(g[1]) as Date);
    return <rect key={key} x={a} y={top} width={Math.max(b - a, 1)} height={bottom - top} fill="#BFBFBF" />;
  };

  return (
    <svg width={685} height={773} style={{ position: "absolute", left: 0, top: 0, background: "#fff" }} fontFamily={FONT}>
      <rect x={0} y={0} width={685} height={773} fill="#fff" />

      {/* ================= (a) ================= */}
      <g>
        <line x1={49} x2={648} y1={yA(0)} y2={yA(0)} stroke="#404040" strokeWidth={1} />
        <Line data={PWP_6} x={xA} y={yA} color="#FF00FF" width={2} />
        <Line data={PWP_9} x={xA} y={yA} color="#808080" width={2} />
        <Line data={PWP_15} x={xA} y={yA} color="#92D050" width={2} />
        <Line data={PWP_23} x={xA} y={yA} color="#00B0F0" width={2} />
        <Line data={PWP_5_TOE} x={xA} y={yA} color="#6A35F0" width={2} />
        <Line data={PWP_12_TOE} x={xA} y={yA} color="#FF2A00" width={2} />
        <rect x={49} y={5.7} width={599} height={221} fill="none" stroke="#595959" strokeWidth={1} />
        <g fontSize={11} textAnchor="end">
          {PWP_Y_TICKS.map((v) => (
            <text key={v} x={47} y={yA(v) + 4}>
              {v}
            </text>
          ))}
        </g>
        <XLabels x={xA} y0={204} size={10} />
        <Legend
          y={18}
          size={9}
          textColor="#595959"
          family="'Open Sans', sans-serif"
          items={[
            { label: "PWP 6 m", color: "#FF00FF", x1: 72, x2: 95 },
            { label: "PWP 9 m", color: "#808080", x1: 158, x2: 182 },
            { label: "PWP 15 m", color: "#92D050", x1: 244, x2: 268 },
            { label: "PWP 23 m", color: "#00B0F0", x1: 335, x2: 359 },
            { label: "PWP 5 m (toe)", color: "#6A35F0", x1: 427, x2: 450 },
            { label: "PWP 12 m (toe)", color: "#FF2A00", x1: 535, x2: 560 },
          ]}
        />
        <text transform="translate(12,140) rotate(-90)" textAnchor="middle" fontSize={10.5}>
          Pore Wtare Pressure (kPa)
        </text>
        <text x={352} y={251} textAnchor="middle" fontSize={10.5} fill="#595959">
          Date (month-year)
        </text>
        <text x={1} y={18} fontSize={19} fontWeight="bold">
          (a)
        </text>
      </g>

      {/* ================= (b) ================= */}
      <g>
        <Line data={VWC_01} x={xB} y={yB} color="#4472C4" width={1.5} />
        <Line data={VWC_05} x={xB} y={yB} color="#FF0000" width={1.5} />
        <Line data={VWC_1} x={xB} y={yB} color="#99F0FF" width={1.5} />
        <Line data={VWC_2} x={xB} y={yB} color="#70AD47" width={1.5} />
        <Line data={VWC_4} x={xB} y={yB} color="#FFD966" width={1.5} />
        <Line data={VWC_6} x={xB} y={yB} color="#FF00FF" width={1.5} />
        {VWC_GAPS.map((g, i) => band(xB, g, 257.5, 456.7, i))}
        <rect x={47.5} y={257.5} width={596.5} height={199.2} fill="none" stroke="#404040" strokeWidth={1} />
        <g fontSize={10.5} textAnchor="end">
          {VWC_Y_TICKS.map((v) => (
            <g key={v}>
              <line x1={44.5} x2={47.5} y1={yB(v)} y2={yB(v)} stroke="#404040" />
              <text x={43.5} y={yB(v) + 3.8}>
                {v}
              </text>
            </g>
          ))}
        </g>
        <XLabels x={xB} y0={462} size={10.5} />
        <Legend
          y={269}
          size={9.5}
          textColor="#000"
          items={[
            { label: "VWC 0.1m", color: "#4472C4", x1: 90, x2: 115 },
            { label: "VWC 0.5m", color: "#FF0000", x1: 172, x2: 195 },
            { label: "VWC 1m", color: "#99F0FF", x1: 253, x2: 277 },
            { label: "VWC 2m", color: "#70AD47", x1: 325, x2: 348 },
            { label: "VWC 4m", color: "#FFD966", x1: 398, x2: 422 },
            { label: "VWC 6m", color: "#FF00FF", x1: 472, x2: 496 },
          ]}
        />
        <text transform="translate(21,370) rotate(-90)" textAnchor="middle" fontSize={10.5}>
          Volumetric Water Content (%)
        </text>
        <text x={343} y={510} textAnchor="middle" fontSize={10.5}>
          Date (month-year)
        </text>
        <text x={2} y={270} fontSize={19} fontWeight="bold">
          (b)
        </text>
      </g>

      {/* ================= (c) ================= */}
      <g>
        <line x1={46} x2={644} y1={yC(0)} y2={yC(0)} stroke="#000" strokeWidth={1} />
        <Line data={T_01} x={xC} y={yC} color="#4472C4" width={1.5} />
        <Line data={T_05} x={xC} y={yC} color="#FF0000" width={1.6} />
        <Line data={T_1} x={xC} y={yC} color="#A6F2FF" width={1.5} />
        <Line data={T_2} x={xC} y={yC} color="#FF00FF" width={1.5} />
        <Line data={T_4} x={xC} y={yC} color="#FFD966" width={1.5} />
        <Line data={T_6} x={xC} y={yC} color="#92D050" width={1.5} />
        <path d={rainPath} stroke="#000" strokeWidth={1.4} fill="none" />
        <line x1={xC(parseDate("16-05-28") as Date)} x2={xC(parseDate("20-08-24") as Date)} y1={yP(0)} y2={yP(0)} stroke="#000" strokeWidth={2} />
        {T_GAPS.map((g, i) => band(xC, g, 518, 717, i))}
        <rect x={46} y={518} width={598} height={199} fill="none" stroke="#000" strokeWidth={1} />
        <g fontSize={10} textAnchor="end">
          {T_Y_TICKS.map((v) => (
            <g key={v}>
              <line x1={42} x2={46} y1={yC(v)} y2={yC(v)} stroke="#000" />
              <text x={40.5} y={yC(v) + 3.6}>
                {v}
              </text>
            </g>
          ))}
        </g>
        <g fontSize={10} textAnchor="start">
          {P_Y_TICKS.map((v) => (
            <g key={v}>
              <line x1={644} x2={648} y1={yP(v)} y2={yP(v)} stroke="#000" />
              <text x={654} y={yP(v) + 3.6}>
                {v}
              </text>
            </g>
          ))}
        </g>
        <XLabels x={xC} y0={725} size={9.5} />
        <Legend
          y={528.5}
          size={9.5}
          textColor="#000"
          items={[
            { label: "T 0.1m", color: "#4472C4", x1: 50, x2: 72 },
            { label: "T 0.5m", color: "#FF0000", x1: 110, x2: 133 },
            { label: "T 1m", color: "#A6F2FF", x1: 170, x2: 193 },
            { label: "T 2m", color: "#FF00FF", x1: 221, x2: 245 },
            { label: "T 4m", color: "#FFD966", x1: 274, x2: 297 },
            { label: "T 6m", color: "#92D050", x1: 328, x2: 348 },
            { label: "Daily rainfall and snowmelting", color: "#000", x1: 377, x2: 400, w: 2.5 },
          ]}
        />
        <text transform="translate(20,626) rotate(-90)" textAnchor="middle" fontSize={10.5}>
          Soil Temperature (C)
        </text>
        <text transform="translate(681,566) rotate(-90)" textAnchor="middle" fontSize={8.5}>
          Precipitation (mm/day)
        </text>
        <text x={343} y={769} textAnchor="middle" fontSize={10.5}>
          Date (month-year)
        </text>
        <text x={1} y={529} fontSize={19} fontWeight="bold">
          (c)
        </text>
      </g>
    </svg>
  );
}
